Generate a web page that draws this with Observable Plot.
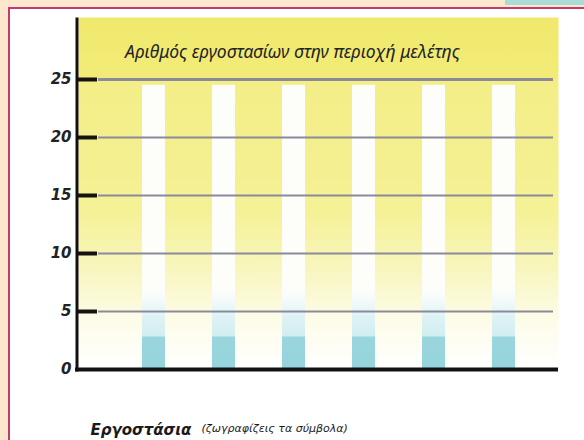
<!DOCTYPE html>
<html>
<head>
<meta charset="utf-8">
<script src="https://cdn.jsdelivr.net/npm/d3@7"></script>
<script src="https://cdn.jsdelivr.net/npm/@observablehq/plot@0.6"></script>
<style>
  html, body { margin: 0; padding: 0; width: 584px; height: 440px; overflow: hidden; background: #fde8cd; }
  .sheet { position: absolute; left: 8px; top: 7px; width: 620px; height: 470px; background: #ffffff;
           border-left: 2px solid #c23a6e; border-top: 2px solid #c23a6e; }
  .tab { position: absolute; left: 505px; top: 0; width: 79px; height: 5px; background: #a9dcd6; }
  #chart { position: absolute; left: 0; top: 0; }
</style>
</head>
<body>
<div class="tab"></div>
<div class="sheet"></div>
<div id="chart"></div>
<script>
// ---- data ----
const factories = ["1", "2", "3", "4", "5", "6"];
const columnTop = [24.5, 24.5, 24.5, 24.5, 24.5, 24.5];   // empty white columns
const paleCyan  = [7.5, 7.5, 7.5, 7.5, 7.5, 7.5];          // light cyan fade
const deepCyan  = [2.8, 2.8, 2.8, 2.8, 2.8, 2.8];          // stronger cyan base
const yTicks = [0, 5, 10, 15, 20, 25];
const title = "Αριθμός εργοστασίων στην περιοχή μελέτης";
const xLabel = "Εργοστάσια";
const xNote = "(ζωγραφίζεις τα σύμβολα)";

const rows = factories.map((f, i) => ({f, top: columnTop[i], pale: paleCyan[i], deep: deepCyan[i]}));

const W = 584, H = 440;
const mL = 78, mR = 26, mT = 17, mB = 71;
const frameW = W - mL - mR;

const plot = Plot.plot({
  width: W, height: H,
  marginLeft: mL, marginRight: mR, marginTop: mT, marginBottom: mB,
  style: {background: "transparent", overflow: "visible"},
  x: {type: "band", domain: factories, range: [104.6, 552.4], paddingInner: 0.675, paddingOuter: 0.5, axis: null},
  y: {domain: [0, 25], range: [369, 79], axis: null},
  marks: [
    Plot.frame({fill: "url(#bgGrad)", stroke: null}),
    Plot.barY(rows, {x: "f", y: "top", fill: "#fdfdf9", inset: 0}),
    Plot.barY(rows, {x: "f", y: "pale", fill: "url(#cyanGrad)", inset: 0}),
    Plot.barY(rows, {x: "f", y: "deep", fill: "#92d3da", fillOpacity: 0.9, inset: 0}),
    Plot.ruleY(yTicks.filter(d => d > 0), {y: d => d, stroke: "#8a8a9c", strokeWidth: d => d === 25 ? 3 : 2, insetLeft: 20, insetRight: 5}),
    Plot.ruleY(yTicks.filter(d => d > 0), {y: d => d, stroke: "#161212", strokeWidth: 4, insetLeft: -1, insetRight: frameW - 19}),
    Plot.ruleY([0], {y: d => d, stroke: "#141010", strokeWidth: 4, insetLeft: -3}),
    Plot.frame({fill: "#141010", stroke: null, insetLeft: -3, insetRight: frameW, insetBottom: -2}),
    Plot.text(yTicks, {y: d => d, text: d => String(d), frameAnchor: "left", dx: -7, textAnchor: "end",
      fontSize: 15, fontWeight: "bold", fontStyle: "italic", fill: "#222", fontFamily: "DejaVu Sans"}),
    Plot.text([title], {text: d => d, frameAnchor: "top", dx: -26, dy: 28, fontSize: 17.5, fontStyle: "italic",
      fill: "#222", fontFamily: "Noto Sans"}),
    Plot.text([xLabel], {text: d => d, frameAnchor: "bottom-left", textAnchor: "start", dx: 12, dy: 65,
      fontSize: 15, fontWeight: "bold", fontStyle: "italic", fill: "#1a1a1a", fontFamily: "DejaVu Sans"}),
    Plot.text([xNote], {text: d => d, frameAnchor: "bottom-left", textAnchor: "start", dx: 123, dy: 62,
      fontSize: 11, fontStyle: "italic", fill: "#1a1a1a", fontFamily: "DejaVu Sans"})
  ]
});

const defs = d3.select(plot).insert("defs", ":first-child");
const bg = defs.append("linearGradient").attr("id", "bgGrad").attr("x1", 0).attr("y1", 0).attr("x2", 0).attr("y2", 1);
[[0, "#f0e96c"], [0.17, "#f2eb78"], [0.18, "#f3ee86"], [0.55, "#f5f196"], [0.72, "#f8f6bf"], [0.86, "#fdfce9"], [1, "#ffffff"]]
  .forEach(([o, c]) => bg.append("stop").attr("offset", o).attr("stop-color", c));
const cg = defs.append("linearGradient").attr("id", "cyanGrad").attr("x1", 0).attr("y1", 0).attr("x2", 0).attr("y2", 1);
[[0, "#ffffff", 0], [0.35, "#e2f4f6", 1], [1, "#b9e5ea", 1]]
  .forEach(([o, c, a]) => cg.append("stop").attr("offset", o).attr("stop-color", c).attr("stop-opacity", a));

document.getElementById("chart").appendChild(plot);
</script>
</body>
</html>
